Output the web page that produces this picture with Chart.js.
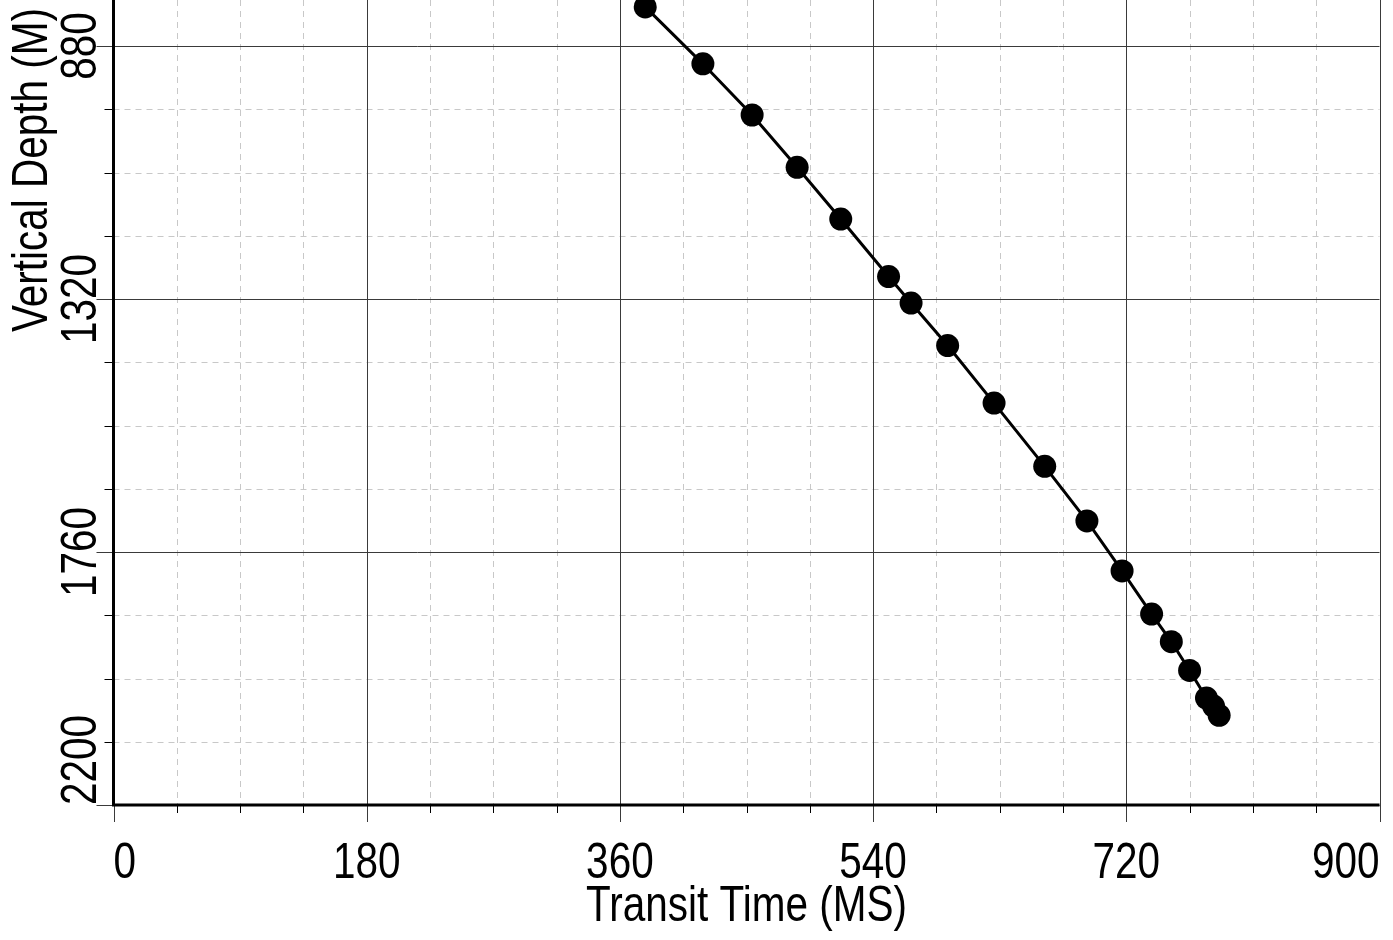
<!DOCTYPE html>
<html>
<head>
<meta charset="utf-8">
<title>Transit Time vs Vertical Depth</title>
<script src="https://cdn.jsdelivr.net/npm/chart.js@4/dist/chart.umd.min.js"></script>
<style>
  html, body { margin: 0; padding: 0; background: #fff; }
  #wrap { width: 1393px; height: 940px; }
</style>
</head>
<body>
<div id="wrap"><canvas id="chart" width="1393" height="940"></canvas></div>
<script>
// checkshot readings: transit time (ms) against vertical depth (m)
const transitTime = [378, 419, 454, 486, 517, 551, 567, 593, 626, 662, 692, 717, 738, 752, 765, 777, 782, 786];
const verticalDepth = [812, 911, 1000, 1091, 1181, 1281, 1327, 1401, 1501, 1611, 1706, 1793, 1868, 1916, 1966, 2014, 2028, 2044];

const xTickLabels = ["0", "180", "360", "540", "720", "900"];
const yTickLabels = ["880", "1320", "1760", "2200"];
const xMinorStep = 45;
const yMinorStep = 110;

// narrow sans: regular Liberation Sans squeezed horizontally
const FONT = "50px 'Liberation Sans', Arial, sans-serif";
const SQUEEZE = 0.81;
const MAJOR = "#3a3a3a";
const MINOR = "#c8c8c8";

function minorValues(min, max, step, majors) {
  const out = [];
  for (let v = Math.ceil(min / step) * step; v <= max; v += step) {
    if (!majors.includes(v)) out.push(v);
  }
  return out;
}

function textWidth(ctx, s) {
  return ctx.measureText(s).width * SQUEEZE;
}

// draws s with its left end at (0,0) in the current transform
function narrowText(ctx, s) {
  ctx.save();
  ctx.scale(SQUEEZE, 1);
  ctx.fillText(s, 0, 0);
  ctx.restore();
}

// dashed minor grid + solid major grid, under the data
const gridPlugin = {
  id: "grid",
  beforeDatasetsDraw(chart) {
    const { ctx, chartArea: a, scales: { x, y } } = chart;
    const xMaj = xTickLabels.map(Number);
    const yMaj = yTickLabels.map(Number);
    ctx.save();
    ctx.lineWidth = 1;

    ctx.strokeStyle = MINOR;
    ctx.setLineDash([6, 5]);
    minorValues(x.min, x.max, xMinorStep, xMaj).forEach(v => {
      const px = Math.round(x.getPixelForValue(v)) + 0.5;
      ctx.beginPath(); ctx.moveTo(px, a.top); ctx.lineTo(px, a.bottom); ctx.stroke();
    });
    minorValues(y.min, y.max, yMinorStep, yMaj).forEach(v => {
      const py = Math.round(y.getPixelForValue(v)) + 0.5;
      ctx.beginPath(); ctx.moveTo(a.left, py); ctx.lineTo(a.right, py); ctx.stroke();
    });

    ctx.setLineDash([]);
    ctx.strokeStyle = MAJOR;
    xMaj.forEach(v => {
      const px = Math.round(x.getPixelForValue(v)) + 0.5;
      ctx.beginPath(); ctx.moveTo(px, a.top); ctx.lineTo(px, a.bottom + 17); ctx.stroke();
    });
    yMaj.forEach(v => {
      const py = Math.round(y.getPixelForValue(v)) + 0.5;
      ctx.beginPath(); ctx.moveTo(a.left - 17, py); ctx.lineTo(a.right, py); ctx.stroke();
    });
    ctx.restore();
  }
};

// axis lines, minor ticks, tick labels and titles
const axesPlugin = {
  id: "axes",
  afterDatasetsDraw(chart) {
    const { ctx, chartArea: a, scales: { x, y } } = chart;
    const xMaj = xTickLabels.map(Number);
    const yMaj = yTickLabels.map(Number);
    ctx.save();

    ctx.strokeStyle = "#000";
    ctx.lineWidth = 1;
    minorValues(x.min, x.max, xMinorStep, xMaj).forEach(v => {
      const px = Math.round(x.getPixelForValue(v)) + 0.5;
      ctx.beginPath(); ctx.moveTo(px, a.bottom); ctx.lineTo(px, a.bottom + 8); ctx.stroke();
    });
    minorValues(y.min, y.max, yMinorStep, yMaj).forEach(v => {
      const py = Math.round(y.getPixelForValue(v)) + 0.5;
      ctx.beginPath(); ctx.moveTo(a.left - 9, py); ctx.lineTo(a.left, py); ctx.stroke();
    });

    ctx.lineWidth = 3;
    ctx.beginPath();
    ctx.moveTo(a.left, a.top);
    ctx.lineTo(a.left, a.bottom);
    ctx.lineTo(a.right, a.bottom);
    ctx.stroke();

    ctx.fillStyle = "#000";
    ctx.font = FONT;
    ctx.textBaseline = "alphabetic";
    ctx.textAlign = "left";

    // x labels, kept inside the plot width
    xTickLabels.forEach(lbl => {
      const w = textWidth(ctx, lbl);
      let left = x.getPixelForValue(Number(lbl)) - w / 2;
      left = Math.max(a.left, Math.min(a.right - w, left));
      ctx.save();
      ctx.translate(left, 878);
      narrowText(ctx, lbl);
      ctx.restore();
    });

    // y labels, rotated, kept inside the plot height
    yTickLabels.forEach(lbl => {
      const w = textWidth(ctx, lbl);
      let bottom = y.getPixelForValue(Number(lbl)) + w / 2;
      bottom = Math.min(a.bottom, Math.max(a.top + w, bottom));
      ctx.save();
      ctx.translate(96, bottom);
      ctx.rotate(-Math.PI / 2);
      narrowText(ctx, lbl);
      ctx.restore();
    });

    const xTitle = "Transit Time (MS)";
    ctx.save();
    ctx.translate((a.left + a.right) / 2 - textWidth(ctx, xTitle) / 2, 921);
    narrowText(ctx, xTitle);
    ctx.restore();

    const yTitle = "Vertical Depth (M)";
    ctx.save();
    ctx.translate(47, 170 + textWidth(ctx, yTitle) / 2);
    ctx.rotate(-Math.PI / 2);
    narrowText(ctx, yTitle);
    ctx.restore();

    ctx.restore();
  }
};

const points = transitTime.map((t, i) => ({ x: t, y: verticalDepth[i] }));

new Chart(document.getElementById("chart"), {
  type: "scatter",
  data: {
    datasets: [{
      data: points,
      showLine: true,
      borderColor: "#000",
      borderWidth: 3,
      backgroundColor: "#000",
      pointRadius: 11.5,
      pointHoverRadius: 11.5,
      pointBorderWidth: 0,
      clip: false
    }]
  },
  options: {
    responsive: false,
    animation: false,
    layout: { autoPadding: false, padding: { left: 113.5, right: 13.5, top: 0, bottom: 135 } },
    scales: {
      x: { type: "linear", min: 0, max: 900, display: false },
      y: { type: "linear", min: 800, max: 2200, reverse: true, display: false }
    },
    plugins: {
      legend: { display: false },
      tooltip: { enabled: false }
    }
  },
  plugins: [gridPlugin, axesPlugin]
});
</script>
</body>
</html>
